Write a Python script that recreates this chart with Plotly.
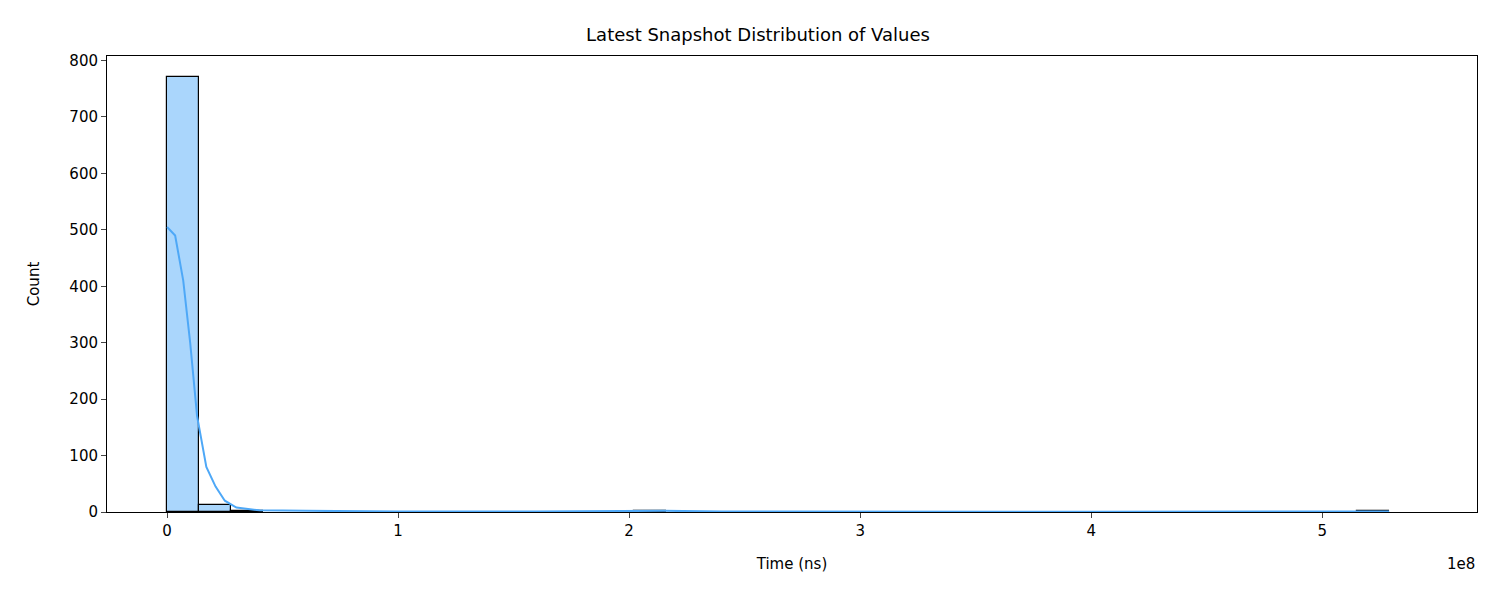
import plotly.graph_objects as go

# histogram bins (edges in ns) and counts
bin_width = 1.39e7
bin_starts = [0.0, 1.39e7, 2.78e7, 2.02e8, 5.15e8]
bin_counts = [770, 12, 1, 2, 1]

# kde curve
kde_x = [0, 3.5e6, 7e6, 1.0e7, 1.3e7, 1.7e7, 2.1e7, 2.5e7, 3.0e7, 4.0e7, 6.0e7,
         1.0e8, 1.6e8, 2.0e8, 2.15e8, 2.4e8, 3.0e8, 4.0e8, 5.0e8, 5.29e8]
kde_y = [505, 490, 410, 300, 170, 80, 45, 20, 8, 3, 2,
         1, 1, 2, 2, 1, 0.5, 0.5, 1, 1]

tick_vals = [0, 1e8, 2e8, 3e8, 4e8, 5e8]
tick_text = ["0", "1", "2", "3", "4", "5"]

fig = go.Figure()
fig.add_trace(go.Bar(
    x=[s + bin_width / 2 for s in bin_starts], y=bin_counts, width=bin_width,
    marker=dict(color="rgba(100,180,250,0.55)", line=dict(color="black", width=1.2)),
    showlegend=False))
fig.add_trace(go.Scatter(x=kde_x, y=kde_y, mode="lines", line=dict(color="#4ea8f7", width=2),
                         showlegend=False))

fig.update_layout(
    width=1500, height=600, plot_bgcolor="white", paper_bgcolor="white",
    margin=dict(l=99, r=31, t=48, b=96),
    font=dict(family="DejaVu Sans", size=15, color="black"),
    title=dict(text="Latest Snapshot Distribution of Values", x=0.5, y=0.955,
               xanchor="center", yanchor="middle", font=dict(size=18)),
    bargap=0,
)
fig.update_xaxes(range=[-0.26e8, 5.67e8], tickvals=tick_vals, ticktext=tick_text,
                 showgrid=False, zeroline=False, showline=True, mirror=True,
                 linecolor="black", ticks="outside", ticklen=5,
                 title=dict(text="Time (ns)", standoff=19, font=dict(size=15)))
fig.update_yaxes(range=[0, 808], dtick=100, showgrid=False, zeroline=False,
                 showline=True, mirror=True, linecolor="black", ticks="outside",
                 ticklen=5, title=dict(text="Count", standoff=26, font=dict(size=15)))
fig.add_annotation(text="1e8", xref="paper", yref="paper", x=1, y=-0.09,
                   xanchor="right", yanchor="top", showarrow=False, font=dict(size=15))

fig.write_html("out.html")
